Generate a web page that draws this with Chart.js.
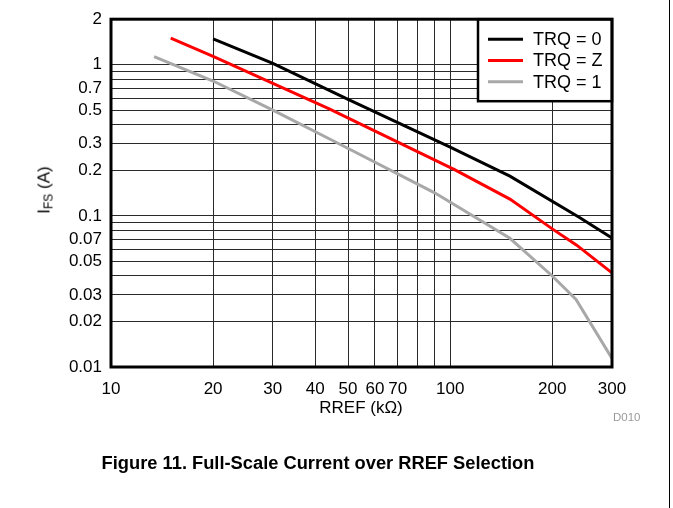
<!DOCTYPE html>
<html>
<head>
<meta charset="utf-8">
<script src="https://cdn.jsdelivr.net/npm/chart.js@4.4.0/dist/chart.umd.min.js"></script>
<style>
  body { margin: 0; background: #fff; font-family: 'Liberation Sans', Arial, sans-serif; }
  #wrap { position: relative; width: 673px; height: 508px; overflow: hidden; }
  #chart { position: absolute; left: 0; top: 0; }
  .ytitle { position: absolute; left: 45px; top: 190px; transform: translate(-50%, -50%) rotate(-90deg);
            font-size: 17px; white-space: nowrap; color: #000; }
  .ytitle sub { font-size: 12px; vertical-align: -3px; }
  .xtitle { position: absolute; left: 361px; top: 398px; transform: translateX(-50%); font-size: 17px; color: #000; white-space: nowrap; }
  .code { position: absolute; left: 613px; top: 411px; font-size: 11.5px; color: #999; }
  .caption { position: absolute; left: 318px; top: 452px; transform: translateX(-50%); font-size: 18.3px;
             font-weight: bold; white-space: nowrap; color: #000; }
  .rule { position: absolute; left: 669px; top: 0; width: 1px; height: 508px; background: #000; }
</style>
</head>
<body>
<div id="wrap">
  <canvas id="chart" width="673" height="508"></canvas>
  <div class="ytitle">I<sub>FS</sub> (A)</div>
  <div class="xtitle">RREF (kΩ)</div>
  <div class="code">D010</div>
  <div class="caption">Figure 11. Full-Scale Current over RREF Selection</div>
  <div class="rule"></div>
</div>
<script>
'use strict';

// data -----------------------------------------------------------------------
let seriesNames = ['TRQ = 0', 'TRQ = Z', 'TRQ = 1'];
let seriesColors = ['#000000', '#ff0000', '#a8a8a8'];

let rrefTrq0 = [20, 30, 50, 100, 150, 240, 300];
let ifsTrq0 = [1.48, 1.02, 0.59, 0.285, 0.183, 0.098, 0.0714];

let rrefTrqZ = [15, 20, 44, 103, 150, 200, 236, 300];
let ifsTrqZ = [1.5, 1.135, 0.51, 0.202, 0.129, 0.082, 0.064, 0.042];

let rrefTrq1 = [13.4, 20, 30, 47, 90, 150, 200, 235, 300];
let ifsTrq1 = [1.13, 0.78, 0.5, 0.3, 0.142, 0.071, 0.04, 0.028, 0.0114];

// grid lines and labelled ticks
let xGrid = [10, 20, 30, 40, 50, 60, 70, 80, 90, 100, 200, 300];
let xLabels = [10, 20, 30, 40, 50, 60, 70, 100, 200, 300];
let yGrid = [0.01, 0.02, 0.03, 0.04, 0.05, 0.06, 0.07, 0.08, 0.09, 0.1,
             0.2, 0.3, 0.4, 0.5, 0.6, 0.7, 0.8, 0.9, 1, 2];
let yLabels = [0.01, 0.02, 0.03, 0.05, 0.07, 0.1, 0.2, 0.3, 0.5, 0.7, 1, 2];

function toPoints(xs, ys) {
  let pts = [];
  for (let i = 0; i < xs.length; i++) {
    pts.push({ x: xs[i], y: ys[i] });
  }
  return pts;
}

function hasValue(list, v) {
  for (let i = 0; i < list.length; i++) {
    if (Math.abs(list[i] - v) < 1e-9) return true;
  }
  return false;
}

let allX = [rrefTrq0, rrefTrqZ, rrefTrq1];
let allY = [ifsTrq0, ifsTrqZ, ifsTrq1];
let datasets = [];
for (let i = 0; i < seriesNames.length; i++) {
  datasets.push({
    label: seriesNames[i],
    data: toPoints(allX[i], allY[i]),
    borderColor: seriesColors[i],
    backgroundColor: seriesColors[i],
    borderWidth: 3,
    pointRadius: 0,
    showLine: true,
    tension: 0
  });
}

// frame around the plot + legend box inside it
let framePlugin = {
  id: 'frame',
  afterDraw(chart) {
    let ctx = chart.ctx;
    let a = chart.chartArea;
    ctx.save();
    // legend
    let lx = 478, ly = a.top, lw = a.right - 478, lh = 82;
    ctx.fillStyle = '#fff';
    ctx.fillRect(lx, ly, lw, lh);
    ctx.strokeStyle = '#000';
    ctx.lineWidth = 2.5;
    ctx.strokeRect(lx, ly, lw, lh);
    ctx.font = '18px "Liberation Sans", Arial, sans-serif';
    ctx.textBaseline = 'middle';
    ctx.textAlign = 'left';
    for (let i = 0; i < chart.data.datasets.length; i++) {
      let ds = chart.data.datasets[i];
      let y = ly + 20 + i * 21.3;
      ctx.strokeStyle = ds.borderColor;
      ctx.lineWidth = 3;
      ctx.beginPath();
      ctx.moveTo(lx + 10, y);
      ctx.lineTo(lx + 45, y);
      ctx.stroke();
      ctx.fillStyle = '#000';
      ctx.fillText(ds.label, lx + 55, y + 1);
    }
    // plot border
    ctx.strokeStyle = '#000';
    ctx.lineWidth = 3;
    ctx.strokeRect(a.left, a.top, a.right - a.left, a.bottom - a.top);
    ctx.restore();
  }
};

let ctx = document.getElementById('chart').getContext('2d');
let myChart = new Chart(ctx, {
  type: 'scatter',
  data: { datasets: datasets },
  options: {
    responsive: false,
    animation: false,
    layout: { padding: { left: 0, top: 14, right: 61, bottom: 111 } },
    plugins: { legend: { display: false }, tooltip: { enabled: false } },
    scales: {
      x: {
        type: 'logarithmic',
        min: 10,
        max: 300,
        afterBuildTicks: function (s) { s.ticks = xGrid.map(v => ({ value: v })); },
        afterFit: function (s) { s.height = 30; },
        ticks: {
          autoSkip: false,
          maxRotation: 0,
          color: '#000',
          padding: 12,
          font: { size: 17, family: '"Liberation Sans", Arial, sans-serif' },
          callback: function (v) { return hasValue(xLabels, v) ? String(v) : ''; }
        },
        grid: { color: '#2a2a2a', lineWidth: 1, drawTicks: false },
        border: { display: false }
      },
      y: {
        type: 'logarithmic',
        min: 0.01,
        max: 2,
        afterBuildTicks: function (s) { s.ticks = yGrid.map(v => ({ value: v })); },
        afterFit: function (s) { s.width = 111; },
        ticks: {
          autoSkip: false,
          color: '#000',
          padding: 9,
          font: { size: 17, family: '"Liberation Sans", Arial, sans-serif' },
          callback: function (v) { return hasValue(yLabels, v) ? String(v) : ''; }
        },
        grid: { color: '#2a2a2a', lineWidth: 1, drawTicks: false },
        border: { display: false }
      }
    }
  },
  plugins: [framePlugin]
});
</script>
</body>
</html>
